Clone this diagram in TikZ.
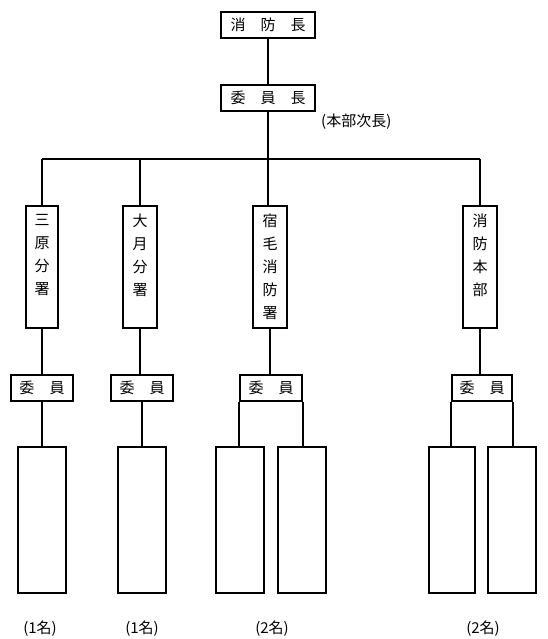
\documentclass[tikz,border=0pt]{standalone}
\usepackage{fontspec}
\setmainfont{Noto Sans CJK JP}
\usepackage{tikz}
\usetikzlibrary{positioning}
\tikzset{
  orgbox/.style={draw, line width=2.4pt, inner sep=0pt, align=center, font=\fontsize{15}{23}\selectfont},
  orghead/.style={orgbox, minimum width=94pt, minimum height=26pt},
  orgbranch/.style={orgbox, minimum width=34pt, minimum height=122pt},
  orgmember/.style={orgbox, minimum width=62pt, minimum height=26pt},
  orgseat/.style={draw, line width=2.4pt, minimum width=48pt, minimum height=146pt, inner sep=0pt},
  orgline/.style={line width=2.4pt},
  orgcount/.style={font=\fontsize{15}{17}\selectfont, inner sep=0pt}
}

\begin{document}
\begin{tikzpicture}[x=1pt, y=-1pt]
  \useasboundingbox (0,0) rectangle (548,639);
  \node[orghead] (chief) at (268,25) {消　防　長};
  \node[orghead] (chair) at (268,98) {委　員　長};
  \node[orgcount, anchor=west] (chairnote) at (321,122) {(本部次長)};
  \coordinate (busL) at (42,159);
  \coordinate (busR) at (480,159);
  % branches
  \node[orgbranch, minimum width=32pt] (mihara) at (42,267) {三\\原\\分\\署\\\phantom{署}};
  \node[orgbranch] (otsuki) at (140,267) {大\\月\\分\\署\\\phantom{署}};
  \node[orgbranch] (shukumo) at (270,267) {宿\\毛\\消\\防\\署};
  \node[orgbranch] (honbu) at (480,267) {消\\防\\本\\部\\\phantom{部}};
  % members
  \node[orgmember] (mem1) at (42,388) {委　員};
  \node[orgmember] (mem2) at (142,388) {委　員};
  \node[orgmember] (mem3) at (271,388) {委　員};
  \node[orgmember, minimum width=60pt] (mem4) at (482,388) {委　員};
  % seats
  \node[orgseat] (seat1) at (42,520) {};
  \node[orgseat] (seat2) at (142,520) {};
  \node[orgseat] (seat3a) at (240,520) {};
  \node[orgseat] (seat3b) at (302,520) {};
  \node[orgseat, minimum width=46pt] (seat4a) at (452,520) {};
  \node[orgseat] (seat4b) at (512,520) {};
  % counts
  \node[orgcount] (cnt1) at (40,629) {(1名)};
  \node[orgcount] (cnt2) at (142,629) {(1名)};
  \node[orgcount] (cnt3) at (272,629) {(2名)};
  \node[orgcount] (cnt4) at (483,629) {(2名)};
  % lines
  \draw[orgline] (chief) -- (chair);
  \draw[orgline] (chair.south) -- (chair.south |- shukumo.north);
  \draw[orgline] (busL) -- (busR);
  \draw[orgline] (mihara.north) -- (mihara.north |- busL);
  \draw[orgline] (otsuki.north) -- (otsuki.north |- busL);
  \draw[orgline] (honbu.north) -- (honbu.north |- busR);
  \draw[orgline] (mihara.south) -- (mihara.south |- mem1.north);
  \draw[orgline] (otsuki.south) -- (otsuki.south |- mem2.north);
  \draw[orgline] (shukumo.south) -- (shukumo.south |- mem3.north);
  \draw[orgline] (honbu.south) -- (honbu.south |- mem4.north);
  \draw[orgline] (mem1.south) -- (mem1.south |- seat1.north);
  \draw[orgline] (mem2.south) -- (mem2.south |- seat2.north);
  \draw[orgline] (mem3.south west) -- (mem3.south west |- seat3a.north);
  \draw[orgline] (mem3.south east) -- (mem3.south east |- seat3b.north);
  \draw[orgline] (mem4.south west) -- (mem4.south west |- seat4a.north);
  \draw[orgline] (mem4.south east) -- (mem4.south east |- seat4b.north);
\end{tikzpicture}
\end{document}
